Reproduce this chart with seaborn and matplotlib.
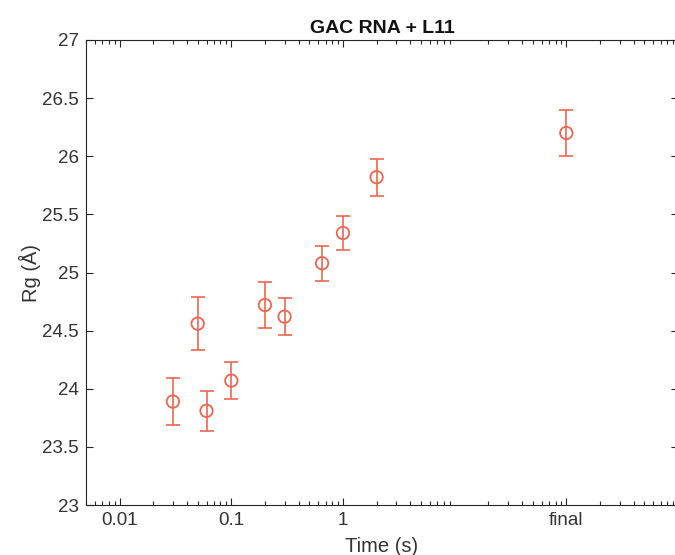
import numpy as np
import pandas as pd
import matplotlib
matplotlib.use('Agg')
import matplotlib.pyplot as plt
import matplotlib.ticker as mticker
import seaborn as sns

# data
time_s = [0.03, 0.05, 0.06, 0.1, 0.2, 0.3, 0.65, 1.0, 2.0, 100.0]
rg = [23.89, 24.56, 23.81, 24.07, 24.72, 24.62, 25.08, 25.34, 25.82, 26.20]
rg_err = [0.20, 0.23, 0.17, 0.16, 0.20, 0.16, 0.15, 0.15, 0.16, 0.20]
tick_pos = [0.01, 0.1, 1, 100]
tick_labels = ['0.01', '0.1', '1', 'final']

color = '#EF6650'

sns.set_style('ticks')
plt.rcParams['font.family'] = ['Liberation Sans', 'DejaVu Sans']

df = pd.DataFrame({'time': time_s, 'rg': rg, 'err': rg_err})

fig = plt.figure(figsize=(6.75, 5.55), dpi=100)
ax = fig.add_axes([86 / 675, 1 - 505 / 555, (678 - 86) / 675, (505 - 40) / 555])

ax.errorbar(df['time'], df['rg'], yerr=df['err'], fmt='none', ecolor=color,
            elinewidth=1.2, capsize=5, capthick=1.2, zorder=2)
sns.scatterplot(data=df, x='time', y='rg', ax=ax, marker='o', s=80,
                facecolor='none', edgecolor=color, linewidth=1.3, zorder=3)

ax.set_xscale('log')
ax.set_xlim(0.005, 1000)
ax.set_ylim(23, 27)
ax.set_xticks(tick_pos)
ax.set_xticklabels(tick_labels)
ax.xaxis.set_minor_locator(mticker.LogLocator(base=10, subs=np.arange(2, 10)))
ax.xaxis.set_minor_formatter(mticker.NullFormatter())
ax.set_yticks(np.arange(23, 27.01, 0.5))
ax.yaxis.set_major_formatter(mticker.FuncFormatter(lambda v, p: f'{v:g}'))

ax.tick_params(which='both', direction='in', top=True, right=True,
               labelsize=13.5, colors='#262626', labelcolor='#333333', width=0.8)
ax.tick_params(which='major', length=5, pad=5)
ax.tick_params(which='minor', length=3)
for s in ax.spines.values():
    s.set_color('#262626')
    s.set_linewidth(0.8)

ax.set_xlabel('Time (s)', fontsize=14.5, color='#333333', labelpad=6)
ax.set_ylabel('Rg (Å)', fontsize=14.5, color='#333333', labelpad=1)
ax.set_title('GAC RNA + L11', fontsize=14, fontweight='bold', color='#111111', pad=5)

fig.savefig('out.png', dpi=100)
